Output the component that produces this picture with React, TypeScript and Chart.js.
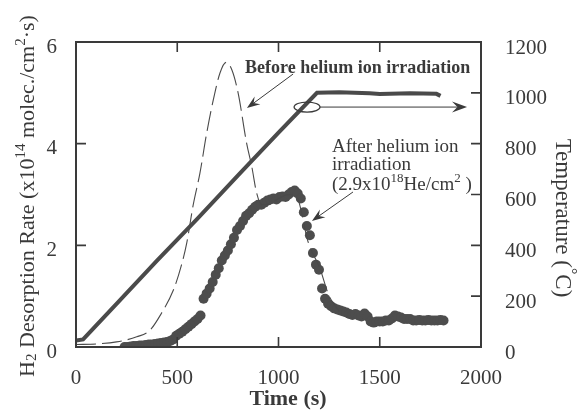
import React, { useEffect, useRef } from 'react';
import { Chart, registerables } from 'chart.js';
Chart.register(...registerables);

// Temperature ramp (right axis, °C)
const tempTime = [0, 35, 200, 400, 600, 800, 1000, 1190, 1300, 1450, 1500, 1650, 1780, 1800];
const tempValue = [25, 30, 170, 340, 505, 675, 843, 1000, 1002, 998, 995, 998, 996, 988];

// Before helium ion irradiation (dashed curve, left axis)
const beforeTime = [0, 100, 200, 300, 365, 420, 481, 520, 547, 579, 612, 645, 678, 711, 741, 770, 801, 843, 868, 892, 917, 960, 1000, 1050, 1090, 1146, 1204, 1250, 1300];
const beforeRate = [0.05, 0.06, 0.1, 0.2, 0.33, 0.65, 1.12, 1.6, 2.05, 2.8, 3.42, 4.2, 4.86, 5.39, 5.6, 5.45, 4.99, 4.0, 3.55, 3.03, 2.8, 2.82, 2.92, 3.0, 2.95, 2.07, 1.55, 1.0, 0.7];

// After helium ion irradiation (dots, left axis)
const afterTime = [240, 255, 270, 285, 300, 315, 330, 345, 360, 375, 390, 405, 420, 435, 450, 465, 480, 495, 510, 525, 540, 555, 570, 585, 600, 615, 630, 645, 660, 675, 690, 705, 720, 735, 750, 765, 780, 795, 810, 825, 840, 855, 870, 885, 900, 915, 930, 945, 960, 975, 990, 1005, 1020, 1035, 1050, 1065, 1080, 1095, 1110, 1125, 1140, 1155, 1170, 1185, 1200, 1215, 1230, 1245, 1260, 1275, 1290, 1305, 1320, 1335, 1350, 1365, 1380, 1395, 1410, 1425, 1440, 1455, 1470, 1485, 1500, 1515, 1530, 1545, 1560, 1575, 1590, 1605, 1620, 1635, 1650, 1665, 1680, 1695, 1710, 1725, 1740, 1755, 1770, 1785, 1800, 1815];
const afterRate = [0.0, 0.0, 0.01, 0.02, 0.02, 0.03, 0.03, 0.04, 0.05, 0.05, 0.06, 0.07, 0.08, 0.09, 0.1, 0.12, 0.15, 0.22, 0.26, 0.3, 0.35, 0.4, 0.45, 0.5, 0.55, 0.62, 0.95, 1.05, 1.15, 1.28, 1.42, 1.55, 1.7, 1.8, 1.9, 2.02, 2.15, 2.3, 2.38, 2.48, 2.58, 2.63, 2.7, 2.76, 2.8, 2.8, 2.84, 2.88, 2.9, 2.92, 2.9, 2.95, 2.96, 2.95, 3.0, 3.05, 3.08, 3.02, 2.92, 2.65, 2.38, 2.2, 1.85, 1.62, 1.52, 1.15, 0.95, 0.85, 0.8, 0.76, 0.74, 0.72, 0.7, 0.68, 0.65, 0.63, 0.65, 0.62, 0.6, 0.66, 0.6, 0.5, 0.48, 0.5, 0.5, 0.5, 0.52, 0.52, 0.56, 0.62, 0.6, 0.58, 0.55, 0.55, 0.55, 0.52, 0.52, 0.53, 0.52, 0.52, 0.53, 0.52, 0.52, 0.52, 0.53, 0.52];

const xTicks = [0, 500, 1000, 1500, 2000];
const rateTicks = [0, 2, 4, 6];
const tempTicks = [0, 200, 400, 600, 800, 1000, 1200];

const FONT = "'Liberation Serif', 'Times New Roman', serif";
const INK = '#3a3a3a';

type Seg = { t: string; s?: 'sup' | 'sub' };

function drawRich(ctx: CanvasRenderingContext2D, segs: Seg[], x: number, y: number, fs: number, weight: string, align: 'left' | 'center') {
  const fontFor = (s: Seg) => `${weight} ${s.s ? Math.round(fs * 0.68) : fs}px ${FONT}`;
  let total = 0;
  segs.forEach((s) => { ctx.font = fontFor(s); total += ctx.measureText(s.t).width; });
  let cx = align === 'center' ? x - total / 2 : x;
  ctx.textAlign = 'left';
  ctx.textBaseline = 'alphabetic';
  segs.forEach((s) => {
    ctx.font = fontFor(s);
    const off = s.s === 'sup' ? -fs * 0.42 : s.s === 'sub' ? fs * 0.08 : 0;
    ctx.fillText(s.t, cx, y + off);
    cx += ctx.measureText(s.t).width;
  });
}

function arrow(ctx: CanvasRenderingContext2D, x1: number, y1: number, x2: number, y2: number, head: number) {
  const a = Math.atan2(y2 - y1, x2 - x1);
  ctx.beginPath();
  ctx.moveTo(x1, y1);
  ctx.lineTo(x2 - Math.cos(a) * head * 0.6, y2 - Math.sin(a) * head * 0.6);
  ctx.stroke();
  ctx.beginPath();
  ctx.moveTo(x2, y2);
  ctx.lineTo(x2 - head * Math.cos(a - 0.35), y2 - head * Math.sin(a - 0.35));
  ctx.lineTo(x2 - head * 0.6 * Math.cos(a), y2 - head * 0.6 * Math.sin(a));
  ctx.lineTo(x2 - head * Math.cos(a + 0.35), y2 - head * Math.sin(a + 0.35));
  ctx.closePath();
  ctx.fill();
}

const decorPlugin = {
  id: 'decor',
  afterDraw(chart: any) {
    const { ctx, chartArea: ca, scales } = chart;
    const xs = scales.x, ys = scales.y, yt = scales.yT;
    ctx.save();
    ctx.strokeStyle = INK;
    ctx.fillStyle = INK;
    // frame
    ctx.lineWidth = 2;
    ctx.strokeRect(ca.left, ca.top, ca.right - ca.left, ca.bottom - ca.top);
    // inward ticks
    ctx.lineWidth = 1.6;
    const TL = 10;
    ctx.beginPath();
    xTicks.slice(1, -1).forEach((v) => {
      const px = xs.getPixelForValue(v);
      ctx.moveTo(px, ca.bottom); ctx.lineTo(px, ca.bottom - TL);
      ctx.moveTo(px, ca.top); ctx.lineTo(px, ca.top + TL);
    });
    rateTicks.slice(1, -1).forEach((v) => {
      const py = ys.getPixelForValue(v);
      ctx.moveTo(ca.left, py); ctx.lineTo(ca.left + TL, py);
    });
    tempTicks.slice(1, -1).forEach((v) => {
      const py = yt.getPixelForValue(v);
      ctx.moveTo(ca.right, py); ctx.lineTo(ca.right - TL, py);
    });
    ctx.stroke();

    // axis titles
    ctx.save();
    ctx.translate(26, 196);
    ctx.rotate(-Math.PI / 2);
    drawRich(ctx, [
      { t: 'H' }, { t: '2', s: 'sub' }, { t: ' Desorption Rate (x10' }, { t: '14', s: 'sup' },
      { t: ' molec./cm' }, { t: '2', s: 'sup' }, { t: '·s)' },
    ], 0, 8, 22, 'normal', 'center');
    ctx.restore();

    ctx.save();
    ctx.translate(564, 218);
    ctx.rotate(Math.PI / 2);
    drawRich(ctx, [{ t: 'Temperature (' }, { t: '°', s: 'sup' }, { t: 'C)' }], 0, 8, 23, 'normal', 'center');
    ctx.restore();

    drawRich(ctx, [{ t: 'Time (s)' }], 288, 405, 22, 'bold', 'center');

    // annotations
    const X = (v: number) => xs.getPixelForValue(v);
    const Y = (v: number) => ys.getPixelForValue(v);
    drawRich(ctx, [{ t: 'Before helium ion irradiation' }], X(835), Y(5.51) + 6, 18, 'bold', 'left');
    ctx.lineWidth = 1;
    arrow(ctx, X(1072), Y(5.37), X(844), Y(4.70), 14);

    drawRich(ctx, [{ t: 'After helium ion' }], X(1264), Y(3.97) + 7, 19, 'normal', 'left');
    drawRich(ctx, [{ t: 'irradiation' }], X(1264), Y(3.62) + 7, 19, 'normal', 'left');
    drawRich(ctx, [{ t: '(2.9x10' }, { t: '18', s: 'sup' }, { t: 'He/cm' }, { t: '2', s: 'sup' }, { t: ' )' }], X(1264), Y(3.23) + 7, 19, 'normal', 'left');
    arrow(ctx, X(1368), Y(3.05), X(1165), Y(2.48), 14);

    // ellipse and arrow toward the temperature axis
    ctx.lineWidth = 1.2;
    ctx.beginPath();
    ctx.ellipse(X(1141), Y(4.72), 13, 5, 0, 0, Math.PI * 2);
    ctx.stroke();
    ctx.lineWidth = 1;
    arrow(ctx, X(1205), Y(4.72), X(1931), Y(4.72), 16);
    ctx.restore();
  },
};

const plain = (v: any) => String(v);

export default function App() {
  const ref = useRef<HTMLCanvasElement>(null);
  useEffect(() => {
    document.body.style.margin = '0';
    const canvas = ref.current!;
    const chart = new Chart(canvas, {
      type: 'line',
      data: {
        datasets: [
          {
            label: 'Temperature',
            data: tempTime.map((t, i) => ({ x: t, y: tempValue[i] })),
            yAxisID: 'yT',
            borderColor: '#4a4a4a',
            borderWidth: 4,
            pointRadius: 0,
            tension: 0,
          },
          {
            label: 'Before helium ion irradiation',
            data: beforeTime.map((t, i) => ({ x: t, y: beforeRate[i] })),
            yAxisID: 'y',
            borderColor: '#4a4a4a',
            borderWidth: 1.1,
            borderDash: [20, 6],
            pointRadius: 0,
            cubicInterpolationMode: 'monotone',
          },
          {
            label: 'After helium ion irradiation',
            data: afterTime.map((t, i) => ({ x: t, y: afterRate[i] })),
            yAxisID: 'y',
            showLine: false,
            pointRadius: 5,
            pointBackgroundColor: '#4d4d4d',
            pointBorderColor: '#4d4d4d',
            pointBorderWidth: 0,
          },
        ],
      },
      options: {
        responsive: false,
        animation: false,
        devicePixelRatio: 1,
        layout: { padding: { top: 42, left: 0, right: 0, bottom: 0 } },
        plugins: { legend: { display: false }, tooltip: { enabled: false } },
        scales: {
          x: {
            type: 'linear',
            min: 0,
            max: 2000,
            afterBuildTicks: (s: any) => { s.ticks = xTicks.map((v) => ({ value: v })); },
            afterFit: (s: any) => { s.height = 63; },
            grid: { display: false },
            border: { display: false },
            ticks: { color: INK, font: { family: FONT, size: 21 }, padding: 11, maxRotation: 0, callback: plain },
          },
          y: {
            type: 'linear',
            position: 'left',
            min: 0,
            max: 6,
            afterBuildTicks: (s: any) => { s.ticks = rateTicks.map((v) => ({ value: v })); },
            afterFit: (s: any) => { s.width = 76; },
            grid: { display: false },
            border: { display: false },
            ticks: { color: INK, font: { family: FONT, size: 21 }, padding: 11, labelOffset: 5, callback: plain },
          },
          yT: {
            type: 'linear',
            position: 'right',
            min: 0,
            max: 1200,
            afterBuildTicks: (s: any) => { s.ticks = tempTicks.map((v) => ({ value: v })); },
            afterFit: (s: any) => { s.width = 97; },
            grid: { display: false },
            border: { display: false },
            ticks: { color: INK, font: { family: FONT, size: 21 }, padding: 16, labelOffset: 6, callback: plain },
          },
        },
      },
      plugins: [decorPlugin],
    } as any);
    return () => chart.destroy();
  }, []);
  return <canvas ref={ref} width={578} height={410} style={{ display: 'block' }} />;
}
